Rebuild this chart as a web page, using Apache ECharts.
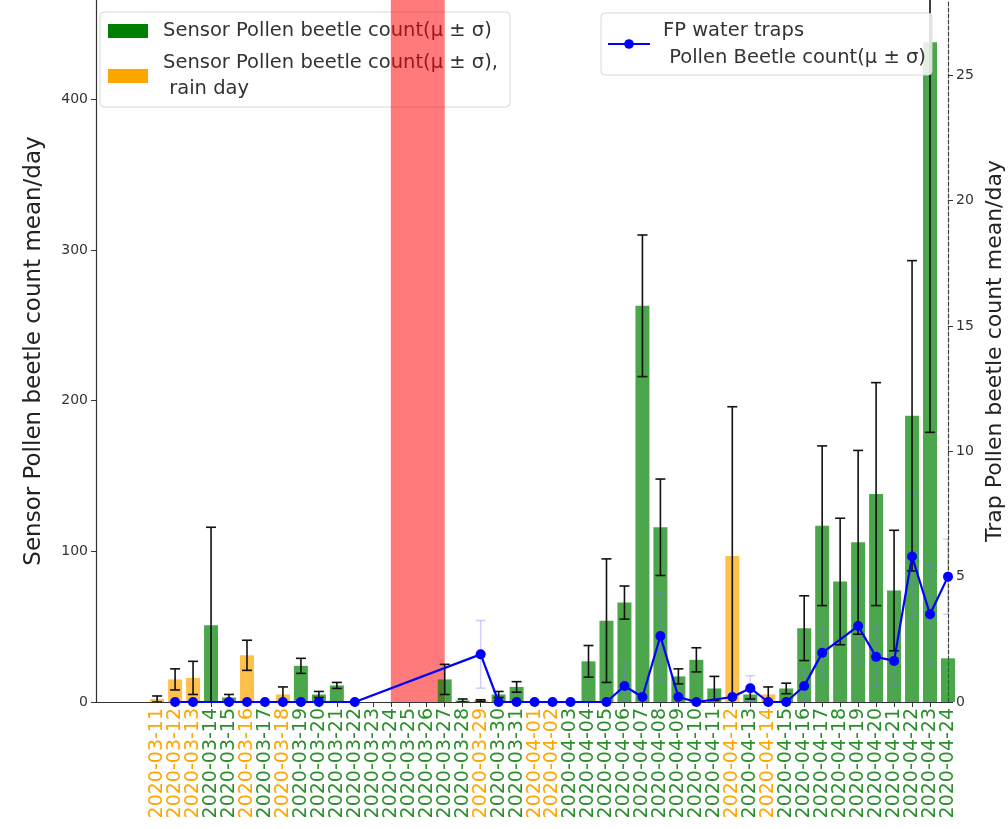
<!DOCTYPE html>
<html>
<head>
<meta charset="utf-8">
<script src="https://cdn.jsdelivr.net/npm/echarts@6/dist/echarts.min.js"></script>
<style>html,body{margin:0;padding:0;background:#fff;overflow:hidden}#c{width:1008px;height:829px}</style>
</head>
<body>
<div id="c"></div>
<script>
const dates = [
 '2020-03-11','2020-03-12','2020-03-13','2020-03-14','2020-03-15','2020-03-16','2020-03-17','2020-03-18',
 '2020-03-19','2020-03-20','2020-03-21','2020-03-22','2020-03-23','2020-03-24','2020-03-25','2020-03-26',
 '2020-03-27','2020-03-28','2020-03-29','2020-03-30','2020-03-31','2020-04-01','2020-04-02','2020-04-03',
 '2020-04-04','2020-04-05','2020-04-06','2020-04-07','2020-04-08','2020-04-09','2020-04-10','2020-04-11',
 '2020-04-12','2020-04-13','2020-04-14','2020-04-15','2020-04-16','2020-04-17','2020-04-18','2020-04-19',
 '2020-04-20','2020-04-21','2020-04-22','2020-04-23','2020-04-24'];
const rainDates = ['2020-03-11','2020-03-12','2020-03-13','2020-03-16','2020-03-18','2020-03-29',
 '2020-04-01','2020-04-02','2020-04-12','2020-04-14'];
const sensorMean = [2,15,16,51,3,31,0.5,5, 24,5,11,null,null,null,null,null,
 15,1,1,5,10,null,null,null, 27,54,66,263,116,17,28,9, 97,5,5,9,49,117,80,106, 138,74,190,438,29];
const sensorStd = [2,7,11,65,2,10,0,5, 5,2,2,0,0,0,0,0,
 10,1,0.5,2,3.5,0,0,0, 10.5,41,11,47,32,5,8,8, 99,3,5,3.5,21.5,53,42,61, 74,40,103,259,0];
const trapMean = [null,0,0,null,0,0,0,0, 0,0,null,0,null,null,null,null,
 null,null,1.9,0,0,0,0,0, null,0,0.64,0.2,2.63,0.2,0,null, 0.2,0.55,0,0,0.64,1.96,null,3.03, 1.8,1.64,5.8,3.5,5.0];
const trapStd = [0,0,0,0,0,0,0,0, 0,0,0,0,0,0,0,0,
 0,0,1.35,0,0,0,0,0, 0,0,0.9,0,1.75,0,0,0, 0,0.5,0,0,0.6,1.0,0,1.5, 1.2,1.0,2.5,2.0,1.5];
const noDataSpan = ['2020-03-24','2020-03-27'];
const leftTicks = [0,100,200,300,400];
const rightTicks = [0,5,10,15,20,25];

const nameSensor = 'Sensor Pollen beetle count(μ ± σ)';
const nameRain = 'Sensor Pollen beetle count(μ ± σ),\n rain day';
const nameTrap = 'FP water traps\n Pollen Beetle count(μ ± σ)';
const isRain = d => rainDates.includes(d);
const FONT = 'DejaVu Sans';
const dateIdx = dates.map((d,i)=>i);
// first and last positions repeated so the library's min/max label overlap check drops only a duplicate
const labelPos = [0].concat(dateIdx, [dates.length - 1]);

const greenData = dates.map((d,i)=> [i, (!isRain(d) && sensorMean[i]!=null) ? sensorMean[i] : '-']);
const orangeData = dates.map((d,i)=> [i, (isRain(d) && sensorMean[i]!=null) ? sensorMean[i] : '-']);
const sensorErr = dates.map((d,i)=> [i, sensorMean[i]!=null ? sensorMean[i] : '-', sensorStd[i]]);
const trapLine = dates.map((d,i)=> [i, trapMean[i]!=null ? trapMean[i] : '-']);
const trapErr = dates.map((d,i)=> [i, (trapMean[i]!=null && trapStd[i]>0) ? trapMean[i] : '-', trapStd[i]]);

function errRender(color, width, cap) {
  return function(params, api) {
    const x = api.value(0), m = api.value(1), s = api.value(2);
    if (isNaN(m) || !(s > 0)) return null;
    const t = api.coord([x, m + s]), b = api.coord([x, m - s]);
    const st = {stroke: color, lineWidth: width};
    return {type:'group', children:[
      {type:'line', shape:{x1:t[0], y1:t[1], x2:b[0], y2:b[1]}, style:st},
      {type:'line', shape:{x1:t[0]-cap, y1:t[1], x2:t[0]+cap, y2:t[1]}, style:st},
      {type:'line', shape:{x1:b[0]-cap, y1:b[1], x2:b[0]+cap, y2:b[1]}, style:st}
    ]};
  };
}
const labelIdx = v => Math.round(Number(v));

const chart = echarts.init(document.getElementById('c'));
chart.setOption({
  animation: false,
  backgroundColor: '#fff',
  textStyle: {fontFamily: FONT},
  grid: {left: 96, right: 60, top: 0, bottom: 127, outerBoundsMode: 'none', containLabel: false},
  legend: [
    {data:[{name:nameSensor, itemStyle:{color:'#008000', opacity:1}},
           {name:nameRain, itemStyle:{color:'#FFA500', opacity:1}}],
     orient:'vertical', left:100, top:12, itemWidth:40, itemHeight:14, itemGap:6,
     icon:'rect', padding:[6,12,5,8], z: 1,
     backgroundColor:'rgba(255,255,255,0.85)', borderColor:'#d8d8d8', borderWidth:1, borderRadius:4,
     textStyle:{fontFamily:FONT, fontSize:19.5, color:'#333', lineHeight:26, padding:[0,0,0,10]}},
    {data:[{name:nameTrap}], left:601, top:13, itemWidth:42, itemHeight:12,
     padding:[4,6,4,6], z: 20,
     backgroundColor:'rgba(255,255,255,0.85)', borderColor:'#d8d8d8', borderWidth:1, borderRadius:4,
     textStyle:{fontFamily:FONT, fontSize:19.5, color:'#333', lineHeight:27, padding:[0,0,0,8]}}
  ],
  xAxis: {
    type:'value', min:-3.4, max:44,
    axisLine:{show:true, onZero:false, lineStyle:{color:'#333', width:1.2}},
    axisTick:{show:true, length:5, lineStyle:{color:'#333'}, customValues: dateIdx},
    splitLine:{show:false},
    axisLabel:{rotate:90, fontSize:19, fontFamily:FONT, margin:6, customValues: labelPos,
      showMinLabel:true, showMaxLabel:true, hideOverlap:false,
      formatter: v => dates[labelIdx(v)] || '',
      color: v => isRain(dates[labelIdx(v)]) ? '#FFA500' : '#2a8f2a'}
  },
  yAxis: [
    {type:'value', min:0, max:466, position:'left',
     name:'Sensor Pollen beetle count mean/day', nameLocation:'middle', nameGap:50,
     nameTextStyle:{fontSize:23, fontFamily:FONT, color:'#222'},
     axisLine:{show:true, onZero:false, lineStyle:{color:'#333', width:1.2}},
     axisTick:{show:true, length:5, lineStyle:{color:'#333'}, customValues: leftTicks},
     splitLine:{show:false},
     axisLabel:{fontSize:14, color:'#333', fontFamily:FONT, customValues: leftTicks, showMinLabel:true}},
    {type:'value', min:0, max:28, position:'right',
     name:'Trap Pollen beetle count mean/day', nameLocation:'middle', nameGap:30,
     nameTextStyle:{fontSize:22, fontFamily:FONT, color:'#222'},
     axisLine:{show:true, onZero:false, lineStyle:{color:'#444', width:1.2, type:[4,2]}},
     axisTick:{show:true, length:5, lineStyle:{color:'#333'}, customValues: rightTicks},
     splitLine:{show:false},
     axisLabel:{fontSize:14, color:'#333', fontFamily:FONT, customValues: rightTicks, showMinLabel:true}}
  ],
  series: [
    {name:nameSensor, type:'bar', data:greenData, barWidth:14, barGap:'-100%', z:3,
     itemStyle:{color:'#008000', opacity:0.7}},
    {name:nameRain, type:'bar', data:orangeData, barWidth:14, barGap:'-100%', z:3,
     itemStyle:{color:'#FFA500', opacity:0.7}},
    {name:'trapErr', type:'custom', yAxisIndex:1, data:trapErr, clip:true, z:4,
     encode:{x:0, y:1}, renderItem: errRender('rgba(120,120,255,0.35)', 1.5, 5)},
    {name:'sensorErr', type:'custom', data:sensorErr, clip:true, z:5,
     encode:{x:0, y:1}, renderItem: errRender('#111', 1.6, 5)},
    {name:'noData', type:'line', data:[], z:6, silent:true,
     markArea:{silent:true, itemStyle:{color:'rgba(255,0,0,0.52)'},
       data:[[{xAxis: dates.indexOf(noDataSpan[0])}, {xAxis: dates.indexOf(noDataSpan[1])}]]}},
    {name:nameTrap, type:'line', yAxisIndex:1, data:trapLine, connectNulls:true, z:8,
     symbol:'circle', symbolSize:10, color:'#0000ff',
     lineStyle:{color:'#0000ff', width:2.2}, itemStyle:{color:'#0000ff'}}
  ]
});
</script>
</body>
</html>
